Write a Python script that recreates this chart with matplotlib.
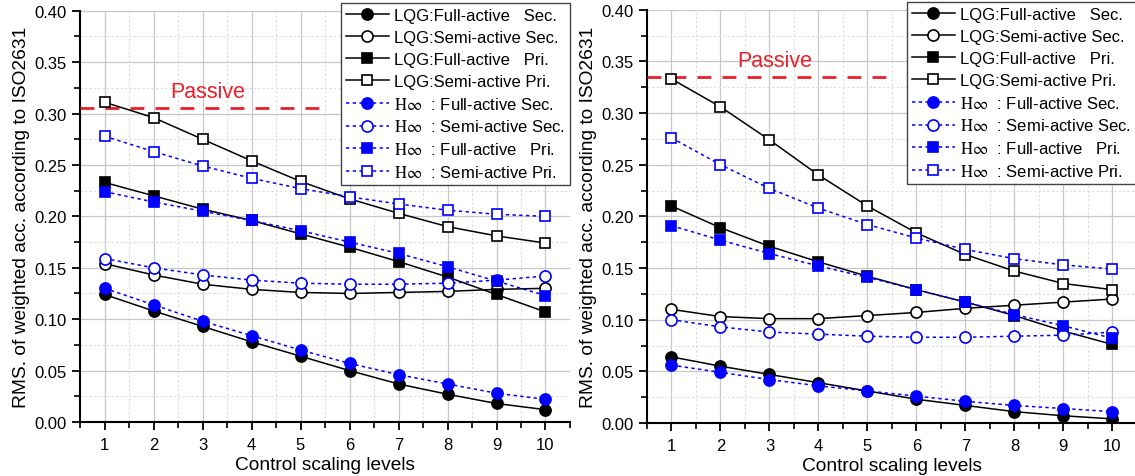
import matplotlib.pyplot as plt
from matplotlib.ticker import MultipleLocator

plt.rcParams['font.family'] = ['Liberation Sans', 'DejaVu Sans']
plt.rcParams['mathtext.fontset'] = 'stix'

levels = [1, 2, 3, 4, 5, 6, 7, 8, 9, 10]

# left: first case
a_lqg_full_sec = [0.124, 0.108, 0.093, 0.078, 0.064, 0.050, 0.037, 0.027, 0.018, 0.012]
a_lqg_semi_sec = [0.154, 0.143, 0.134, 0.129, 0.126, 0.125, 0.126, 0.127, 0.129, 0.130]
a_lqg_full_pri = [0.233, 0.220, 0.207, 0.196, 0.183, 0.170, 0.156, 0.141, 0.124, 0.107]
a_lqg_semi_pri = [0.311, 0.296, 0.275, 0.254, 0.234, 0.217, 0.203, 0.190, 0.181, 0.174]
a_h_full_sec = [0.130, 0.114, 0.098, 0.084, 0.070, 0.057, 0.046, 0.037, 0.028, 0.022]
a_h_semi_sec = [0.159, 0.150, 0.143, 0.138, 0.135, 0.134, 0.134, 0.135, 0.138, 0.142]
a_h_full_pri = [0.224, 0.214, 0.205, 0.196, 0.186, 0.175, 0.164, 0.151, 0.137, 0.123]
a_h_semi_pri = [0.278, 0.263, 0.249, 0.237, 0.227, 0.219, 0.212, 0.206, 0.202, 0.200]
a_passive = 0.305

# right: second case
b_lqg_full_sec = [0.064, 0.055, 0.047, 0.039, 0.031, 0.023, 0.017, 0.011, 0.007, 0.004]
b_lqg_semi_sec = [0.110, 0.103, 0.101, 0.101, 0.104, 0.107, 0.111, 0.114, 0.117, 0.120]
b_lqg_full_pri = [0.210, 0.189, 0.171, 0.156, 0.142, 0.129, 0.117, 0.104, 0.089, 0.076]
b_lqg_semi_pri = [0.333, 0.306, 0.274, 0.240, 0.210, 0.184, 0.163, 0.147, 0.135, 0.129]
b_h_full_sec = [0.056, 0.049, 0.042, 0.036, 0.031, 0.026, 0.021, 0.017, 0.014, 0.011]
b_h_semi_sec = [0.100, 0.093, 0.088, 0.086, 0.084, 0.083, 0.083, 0.084, 0.085, 0.088]
b_h_full_pri = [0.191, 0.177, 0.164, 0.152, 0.141, 0.129, 0.117, 0.105, 0.094, 0.082]
b_h_semi_pri = [0.276, 0.250, 0.227, 0.208, 0.192, 0.179, 0.168, 0.159, 0.153, 0.149]
b_passive = 0.335

labels = ['LQG:Full-active   Sec.', 'LQG:Semi-active Sec.',
          'LQG:Full-active   Pri.', 'LQG:Semi-active Pri.',
          r'$\mathrm{H}\infty$  : Full-active Sec.',
          r'$\mathrm{H}\infty$  : Semi-active Sec.',
          r'$\mathrm{H}\infty$  : Full-active   Pri.',
          r'$\mathrm{H}\infty$  : Semi-active Pri.']

styles = [
    dict(color='black', ls='-', marker='o', mfc='black'),
    dict(color='black', ls='-', marker='o', mfc='white'),
    dict(color='black', ls='-', marker='s', mfc='black'),
    dict(color='black', ls='-', marker='s', mfc='white'),
    dict(color='blue', ls=(0, (2.2, 2.2)), marker='o', mfc='blue'),
    dict(color='blue', ls=(0, (2.2, 2.2)), marker='o', mfc='white'),
    dict(color='blue', ls=(0, (2.2, 2.2)), marker='s', mfc='blue'),
    dict(color='blue', ls=(0, (2.2, 2.2)), marker='s', mfc='white'),
]


def draw(ax, series, passive, legend_x):
    ax.hlines(passive, 0.5, 5.55, colors='#e8202a', linestyles=(0, (5, 4)), lw=2, zorder=3)
    ax.text(3.1, passive + 0.016, 'Passive', color='#e8202a', fontsize=15.5,
            ha='center', va='center')
    for ys, st, lab in zip(series, styles, labels):
        ms = 8 if st['marker'] == 'o' else 7
        ax.plot(levels, ys, lw=1.1, ms=ms, mec=st['color'], mew=1.2,
                label=lab, zorder=4, **st)

    ax.set_xlim(0.5, 10.5)
    ax.set_ylim(0, 0.40)
    ax.xaxis.set_major_locator(MultipleLocator(1))
    ax.xaxis.set_minor_locator(MultipleLocator(0.5))
    ax.yaxis.set_major_locator(MultipleLocator(0.05))
    ax.yaxis.set_minor_locator(MultipleLocator(0.025))
    ax.yaxis.set_major_formatter(lambda v, p: f'{v:.2f}')
    ax.grid(which='major', color='#c8c8c8', lw=0.9)
    ax.grid(which='minor', color='#dcdcdc', lw=0.8, ls=(0, (2, 2)))
    ax.set_axisbelow(True)
    for s in ['top', 'right']:
        ax.spines[s].set_visible(False)
    for s in ['left', 'bottom']:
        ax.spines[s].set_linewidth(1.5)
    ax.tick_params(which='major', direction='out', length=6, width=1.3, labelsize=12)
    ax.tick_params(axis='x', which='major', pad=5)
    ax.tick_params(which='minor', direction='out', length=4, width=1.2)
    ax.set_xlabel('Control scaling levels', fontsize=13.8, labelpad=3)
    ax.set_ylabel('RMS. of weighted acc. according to ISO2631', fontsize=13.8, labelpad=3)

    leg = ax.legend(loc='upper right', bbox_to_anchor=(legend_x, 1.018), borderaxespad=0,
                    fontsize=12, handlelength=2.6, handletextpad=0.3, labelspacing=0.41,
                    borderpad=0.3, fancybox=False, framealpha=1, edgecolor='#444444')
    leg.get_frame().set_linewidth(1.0)
    leg.set_zorder(5)


fig = plt.figure(figsize=(11.35, 4.77), dpi=100)
ax1 = fig.add_axes([0.0705, 0.1132, 0.4317, 0.8623])
ax2 = fig.add_axes([0.570, 0.1111, 0.4317, 0.8665])

draw(ax1, [a_lqg_full_sec, a_lqg_semi_sec, a_lqg_full_pri, a_lqg_semi_pri,
           a_h_full_sec, a_h_semi_sec, a_h_full_pri, a_h_semi_pri], a_passive, 1.0)
draw(ax2, [b_lqg_full_sec, b_lqg_semi_sec, b_lqg_full_pri, b_lqg_semi_pri,
           b_h_full_sec, b_h_semi_sec, b_h_full_pri, b_h_semi_pri], b_passive, 0.998)

fig.savefig('out.png', dpi=100)
